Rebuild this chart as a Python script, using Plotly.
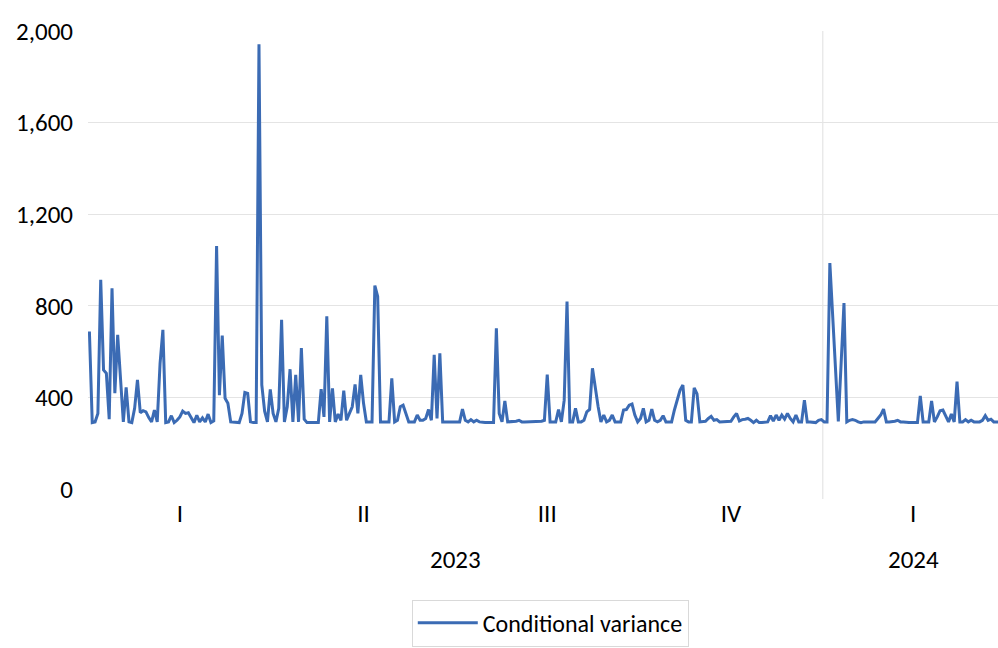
import numpy as np
import pandas as pd
import plotly.graph_objects as go

# Conditional variance, one value per business day
q1_2023 = [688, 290, 293, 330, 914, 520, 505, 305, 877, 418, 673, 476, 293, 444, 293, 290,
           352, 476, 333, 342, 337, 312, 293, 345, 293, 549, 695, 290, 293, 320, 290, 300,
           315, 340, 330, 333, 311, 290, 322, 293, 311, 293, 327, 290, 297, 1061, 410, 670,
           396, 374, 293, 293, 293, 290, 330, 422, 418, 293, 290, 290, 1942, 454, 340, 293,
           435]
q2_2023 = [330, 293, 352, 739, 293, 359, 523, 293, 498, 293, 615, 305, 290, 290, 290, 290,
           290, 436, 315, 754, 293, 439, 293, 327, 300, 429, 300, 330, 359, 457, 330, 498,
           374, 293, 293, 293, 888, 841, 293, 293, 293, 293, 483, 293, 300, 359, 366, 330,
           293, 293, 293, 323, 300, 300, 308, 347, 300, 586, 308, 593, 293, 293, 293, 293,
           293]
q3_2023 = [293, 293, 349, 300, 293, 303, 293, 300, 293, 290, 290, 290, 290, 290, 702, 330,
           293, 385, 293, 293, 293, 296, 300, 293, 293, 293, 296, 293, 293, 293, 296, 300,
           500, 293, 293, 293, 347, 293, 388, 819, 293, 293, 352, 293, 293, 300, 337, 347,
           527, 432, 360, 293, 323, 293, 300, 323, 293, 293, 293, 345, 347, 366, 371, 323,
           293]
q4_2023 = [308, 352, 293, 300, 349, 300, 293, 300, 320, 293, 293, 293, 345, 388, 432, 454,
           300, 293, 293, 442, 415, 293, 293, 296, 308, 317, 300, 303, 293, 293, 293, 293,
           296, 315, 330, 297, 303, 305, 308, 300, 290, 300, 290, 290, 293, 293, 320, 297,
           323, 300, 323, 305, 330, 308, 293, 323, 293, 293, 388, 293, 293, 290, 290, 300,
           303]
q1_2024 = [293, 293, 987, 760, 530, 295, 550, 812, 293, 300, 303, 300, 293, 290, 293, 293,
           293, 296, 293, 308, 323, 349, 293, 293, 293, 296, 300, 293, 293, 290, 290, 290,
           290, 290, 406, 293, 293, 293, 385, 293, 315, 342, 345, 315, 293, 327, 293, 469,
           293, 293, 303, 293, 300, 293, 293, 293, 300, 320, 300, 305, 293, 293, 293, 293]

variance = q1_2023 + q2_2023 + q3_2023 + q4_2023 + q1_2024
start_date = "2023-01-02"
quarter_names = {1: "I", 2: "II", 3: "III", 4: "IV"}
series_name = "Conditional variance"
y_ticks = [0, 400, 800, 1200, 1600, 2000]

dates = pd.bdate_range(start_date, periods=len(variance))
idx = np.arange(len(variance))
df = pd.DataFrame({"i": idx, "date": dates, "v": variance})
df["year"] = df["date"].dt.year
df["q"] = df["date"].dt.quarter

qgroups = df.groupby(["year", "q"])["i"].agg(["min", "max"]).reset_index()
q_centers = ((qgroups["min"] + qgroups["max"]) / 2).tolist()
q_text = [quarter_names[q] for q in qgroups["q"]]
ygroups = df.groupby("year")["i"].agg(["min", "max"]).reset_index()

FONT = "Calibri, Carlito, Lato, sans-serif"
LINE = "#3b6bb4"
GRID = "#e4e4e4"

fig = go.Figure()
fig.add_trace(go.Scatter(x=df["i"], y=df["v"], mode="lines", name=series_name,
                         line=dict(color=LINE, width=3)))

# divider between years
for k in range(1, len(ygroups)):
    xb = ygroups["min"].iloc[k] - 0.5
    fig.add_shape(type="line", xref="x", yref="paper", x0=xb, x1=xb, y0=-0.022, y1=1,
                  line=dict(color=GRID, width=1.2), layer="below")

for _, r in ygroups.iterrows():
    fig.add_annotation(x=(r["min"] + r["max"]) / 2, xref="x", y=-0.154, yref="paper",
                       text=str(r["year"]), showarrow=False, yanchor="middle",
                       font=dict(family=FONT, size=25, color="#000000"))

fig.update_layout(
    width=998, height=648,
    margin=dict(l=88, r=0, t=31, b=159, autoexpand=False),
    paper_bgcolor="white", plot_bgcolor="white",
    font=dict(family=FONT, size=25, color="#000000"),
    showlegend=True,
    legend=dict(orientation="h", x=0.508, xanchor="center",
                yref="container", y=0.002, yanchor="bottom",
                bordercolor="#d9d9d9", borderwidth=1, font=dict(family=FONT, size=24),
                itemwidth=60),
    xaxis=dict(range=[-0.5, 321.5], showgrid=False, zeroline=False, showline=False,
               automargin=False,
               tickmode="array", tickvals=q_centers, ticktext=q_text, ticks="",
               ticklabelstandoff=7, tickfont=dict(family=FONT, size=25)),
    yaxis=dict(range=[0, 2000], tickmode="array", tickvals=y_ticks, tickformat=",",
               automargin=False,
               showgrid=True, gridcolor=GRID, gridwidth=1, zeroline=False, showline=False,
               ticks="", ticklabelstandoff=14, tickfont=dict(family=FONT, size=25)),
)

fig.write_html("out.html", config={"displayModeBar": False},
               post_script="document.body.style.margin='0';document.body.style.overflow='hidden';")
